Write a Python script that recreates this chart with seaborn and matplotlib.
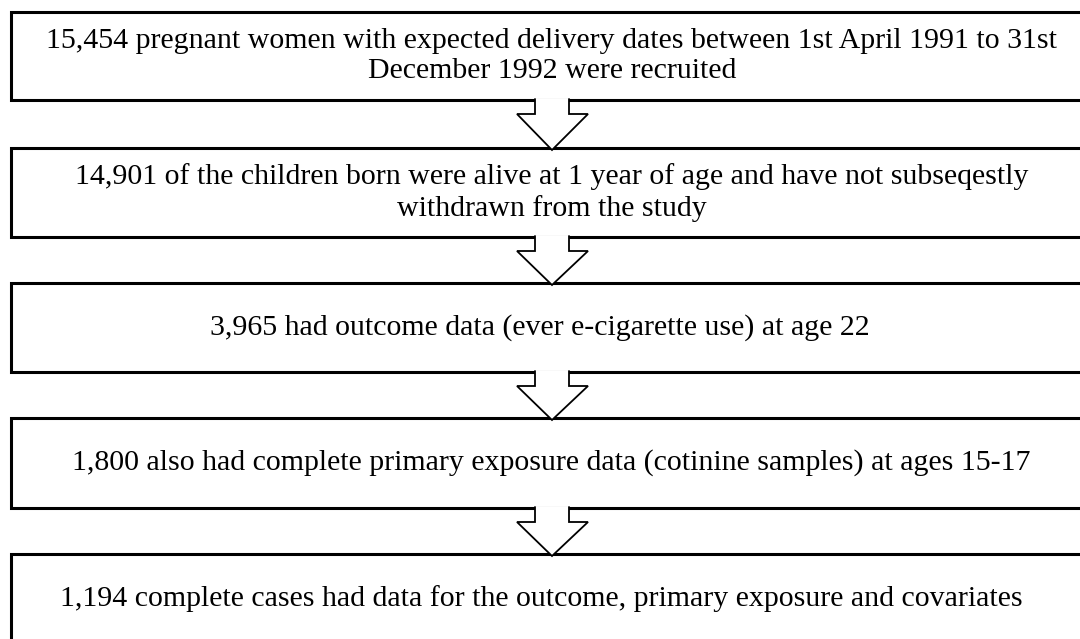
import matplotlib
matplotlib.use('Agg')
import matplotlib.pyplot as plt
import seaborn as sns
from matplotlib.patches import Rectangle, Polygon

# flowchart steps
steps = [
    '15,454 pregnant women with expected delivery dates between 1st April 1991 to 31st\nDecember 1992 were recruited',
    '14,901 of the children born were alive at 1 year of age and have not subseqestly\nwithdrawn from the study',
    '3,965 had outcome data (ever e-cigarette use) at age 22',
    '1,800 also had complete primary exposure data (cotinine samples) at ages 15-17',
    '1,194 complete cases had data for the outcome, primary exposure and covariates',
]

# layout (pixels, y down)
box_top = [12, 148, 283, 418, 554]
box_bottom = [100, 237, 372, 508, 643]
text_x = [552, 552, 540, 551, 541]
box_left, box_right = 11, 1090

sns.set_style('white')
plt.rcParams['font.family'] = ['Liberation Serif', 'DejaVu Serif']

fig = plt.figure(figsize=(10.8, 6.39), dpi=100)
ax = fig.add_axes([0, 0, 1, 1])
ax.set_xlim(0, 1080)
ax.set_ylim(639, 0)
ax.axis('off')

for label, top, bottom, tx in zip(steps, box_top, box_bottom, text_x):
    ax.add_patch(Rectangle((box_left, top), box_right - box_left, bottom - top,
                           facecolor='white', edgecolor='black', linewidth=2.2, zorder=1))
    ax.text(tx, (top + bottom) / 2, label, ha='center', va='center',
            fontsize=21.5, linespacing=1.22, color='black', zorder=3)

# block arrows between boxes
sx0, sx1 = 535, 569
hx0, hx1 = 517, 588
tip_x = 552
for bottom, next_top in zip(box_bottom[:-1], box_top[1:]):
    head_y = bottom + 14
    outline = [(sx0, bottom - 1), (sx0, head_y), (hx0, head_y), (tip_x, next_top + 2),
               (hx1, head_y), (sx1, head_y), (sx1, bottom - 1)]
    ax.add_patch(Polygon(outline, closed=True, facecolor='white', edgecolor='none', zorder=2))
    xs, ys = zip(*outline)
    ax.plot(xs, ys, color='black', linewidth=1.3, zorder=2.5, solid_joinstyle='miter')

fig.savefig('out.png', dpi=100)
